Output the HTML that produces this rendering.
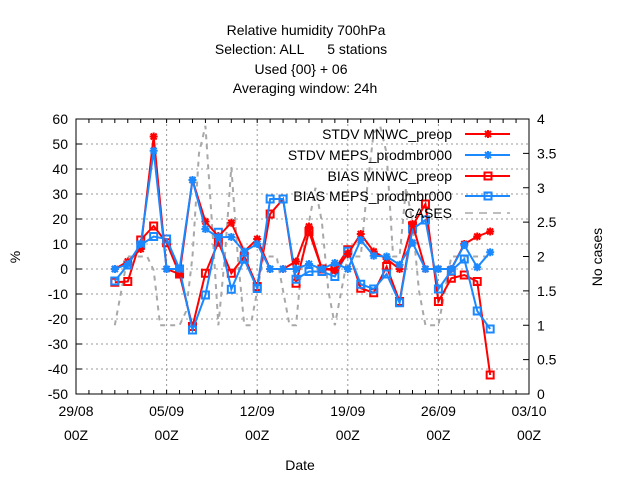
<!DOCTYPE html>
<html><head><meta charset="utf-8"><style>
body{margin:0;background:#fff;}
svg{display:block;font-family:"Liberation Sans",sans-serif;}
</style></head><body>
<svg id="chart" width="640" height="480" viewBox="0 0 640 480">
<g font-size="14" text-anchor="middle" fill="#000">
<text x="306" y="35">Relative humidity 700hPa</text>
<text x="301" y="54" style="white-space:pre">Selection: ALL      5 stations</text>
<text x="301" y="74">Used {00} + 06</text>
<text x="305" y="93">Averaging window: 24h</text>
</g>
<g id="grid"></g><g id="axes"></g><g id="series"></g><g id="legend"></g>
<text x="20" y="257" font-size="14" text-anchor="middle" transform="rotate(-90 20 257)">%</text>
<text x="602" y="257" font-size="14" text-anchor="middle" transform="rotate(-90 602 257)">No cases</text>
<text x="300" y="470" font-size="14" text-anchor="middle">Date</text>
</svg>
<script>
const days=[3,4,5,6,7,8,9,10,11,12,13,14,15,16,17,18,19,20,21,22,23,24,25,26,27,28,29,30,31,32];
const stdvMnwc=[0,3,8,53,0,-2,35.6,19,13,18.5,7,12,0,0,3,17,0,-0.5,6,14,7,4,0,18,0,0,0,10,13,15];
const stdvMeps=[0,2,10,47.3,0,0,35.6,16,12.7,12.8,7,10,0,0,0,2,0,2.4,0,11.6,5.3,5,1.7,10.5,0,0,0,9.6,0.7,6.7];
const biasMnwc=[-5.3,-5,11.6,17.2,10.5,-2,-23,-1.7,10.7,-1.7,5,-7,22,28,-5.7,15,0,0,7.7,-7.7,-9.5,1,-13,17.3,26,-13,-3.7,-2.4,-5,-42.4];
const biasMeps=[-4.8,1.6,9.6,13,12,0,-24.4,-10.4,14.7,-8.1,3.9,-7.8,28,28,-4.1,-1,-1,-3,7.1,-6.1,-8,-2,-13.5,16,19.6,-8,-0.7,4,-16.8,-24];
const caseTimes=[];for(let i=0;i<59;i++)caseTimes.push(3+i*0.5);
const cases=[1,1.5,2,2,2,2,1.8,1,1,1,1,1.2,2,3.5,3.9,2.5,1,2,3.3,2,1,1,1.5,2,2,2,1.5,1,1,2,2.5,3,2.5,1.5,1,1.5,2,2,2,3,3.8,3.9,3.5,2,2,3,2.5,1.5,1,1,1,1.5,2,2,2,2,2,2,2];
const yTicks=[-50,-40,-30,-20,-10,0,10,20,30,40,50,60];
const y2Ticks=[0,0.5,1,1.5,2,2.5,3,3.5,4];
const xTickDays=[0,7,14,21,28,35];
const xTickLabels=["29/08","05/09","12/09","19/09","26/09","03/10"];
const L=76,R=529,T=119,B=394;
const X=d=>L+d*(R-L)/35;
const Y=v=>T+(60-v)*(B-T)/110;
const Y2=v=>B-v*(B-T)/4;
const NS="http://www.w3.org/2000/svg";
function mk(p,tag,a){const e=document.createElementNS(NS,tag);for(const k in a)e.setAttribute(k,a[k]);p.appendChild(e);return e;}
const grid=document.getElementById('grid'),axes=document.getElementById('axes'),ser=document.getElementById('series'),leg=document.getElementById('legend');
yTicks.forEach(v=>{const y=Y(v);
 if(v>-50&&v<60){const g=mk(grid,'line',{x1:L,x2:R,y1:y,y2:y,stroke:'#999','stroke-dasharray':'2,3'});
 
 }
 mk(axes,'line',{x1:L,x2:L+6,y1:y,y2:y,stroke:'#000'});
 const t=mk(axes,'text',{x:L-8,y:y+5,'font-size':14,'text-anchor':'end'});t.textContent=v;
 
 });
y2Ticks.forEach(v=>{const y=Y2(v);
 mk(axes,'line',{x1:R-6,x2:R,y1:y,y2:y,stroke:'#000'});
 const t=mk(axes,'text',{x:R+8,y:y+5,'font-size':14});t.textContent=v;
 
 });
for(let d=1;d<35;d++){mk(axes,'line',{x1:X(d),x2:X(d),y1:B,y2:B-4,stroke:'#000'});mk(axes,'line',{x1:X(d),x2:X(d),y1:T,y2:T+4,stroke:'#000'});}
xTickDays.forEach((d,i)=>{const x=X(d);
 if(d>0&&d<35){const g=mk(grid,'line',{x1:x,x2:x,y1:T,y2:B,stroke:'#999','stroke-dasharray':'2,3'});
 
 }
 const t=mk(axes,'text',{x:x,y:416,'font-size':14,'text-anchor':'middle'});t.textContent=xTickLabels[i];
 
 
 const t2=mk(axes,'text',{x:x,y:440,'font-size':14,'text-anchor':'middle'});t2.textContent="00Z";
 
 });
const fr=mk(axes,'rect',{x:L,y:T,width:R-L,height:B-T,fill:'none',stroke:'#000'});


const cp=mk(ser,'polyline',{points:caseTimes.map((t,i)=>X(t)+','+Y2(cases[i])).join(' '),fill:'none',stroke:'#a8a8a8','stroke-width':2,'stroke-dasharray':'5,5'});


function star(g,x,y,c){mk(g,'path',{d:`M${x-4},${y}h8M${x},${y-4}v8M${x-3},${y-3}l6,6M${x-3},${y+3}l6,-6`,stroke:c,'stroke-width':2});}
function sq(g,x,y,c){mk(g,'rect',{x:x-3.5,y:y-3.5,width:7,height:7,fill:'none',stroke:c,'stroke-width':2});}
const defs=[["BIAS MNWC_preop",biasMnwc,'#ff0000',sq,'bias-mnwc'],["BIAS MEPS_prodmbr000",biasMeps,'#1a88ff',sq,'bias-meps'],["STDV MNWC_preop",stdvMnwc,'#ff0000',star,'stdv-mnwc'],["STDV MEPS_prodmbr000",stdvMeps,'#1a88ff',star,'stdv-meps']];
defs.forEach(s=>{const g=mk(ser,'g',{});
 
 
 mk(g,'polyline',{points:days.map((d,i)=>X(d)+','+Y(s[1][i])).join(' '),fill:'none',stroke:s[2],'stroke-width':2});
 days.forEach((d,i)=>s[3](g,X(d),Y(s[1][i]),s[2]));});
const legItems=[["STDV MNWC_preop",'#ff0000',star,134],["STDV MEPS_prodmbr000",'#1a88ff',star,155],["BIAS MNWC_preop",'#ff0000',sq,176],["BIAS MEPS_prodmbr000",'#1a88ff',sq,196]];
legItems.forEach(l=>{const g=mk(leg,'g',{});
 
 
 const t=mk(g,'text',{x:452,y:l[3]+5,'font-size':14,'text-anchor':'end'});t.textContent=l[0];
 mk(g,'line',{x1:465,x2:510,y1:l[3],y2:l[3],stroke:l[1],'stroke-width':2});l[2](g,488,l[3],l[1]);});
const cg=mk(leg,'g',{});


const ct=mk(cg,'text',{x:452,y:218,'font-size':14,'text-anchor':'end'});ct.textContent="CASES";
mk(cg,'line',{x1:465,x2:510,y1:213,y2:213,stroke:'#a8a8a8','stroke-width':1.5,'stroke-dasharray':'8,6'});
</script>
</body></html>
